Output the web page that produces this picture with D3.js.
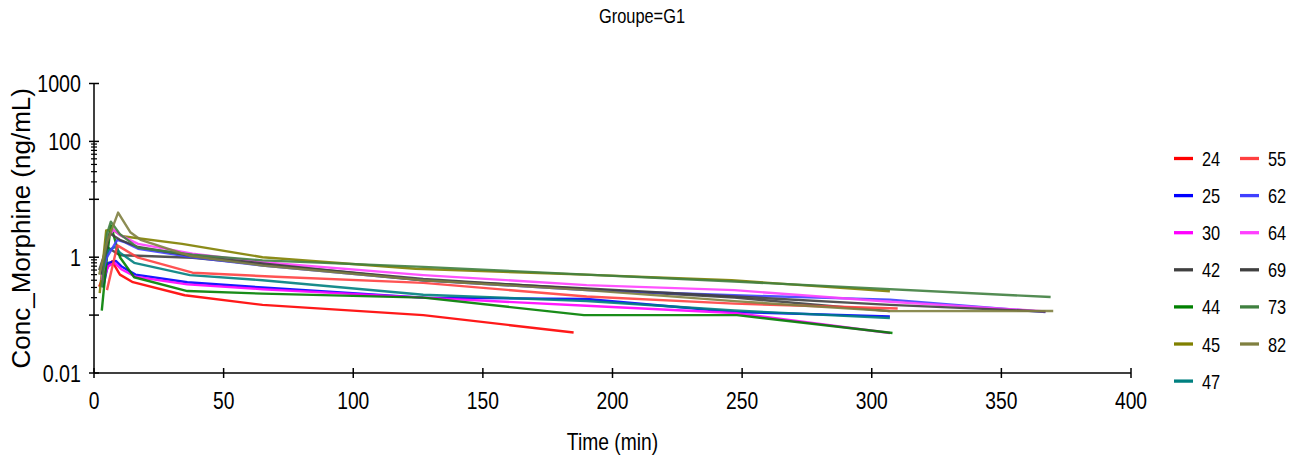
<!DOCTYPE html>
<html><head><meta charset="utf-8">
<script src="https://cdn.jsdelivr.net/npm/d3@7"></script>
<style>
html,body{margin:0;padding:0;background:#fff;}
text{font-family:"Liberation Sans",Arial,sans-serif;fill:#000;}
</style></head>
<body><svg id="chart" width="1307" height="466"></svg>
<script>
// ---- data ----
const subjects = ["24","25","30","42","44","45","47","55","62","64","69","73","82"];
const colors = ["#ff0000","#0000ff","#ff00ff","#404040","#008000","#808000","#008080","#ff4040","#4040ff","#ff40ff","#404040","#408040","#808040"];
const t24 = [2, 4.5, 7, 10, 15, 35, 65, 127, 185];
const c24 = [0.31, 0.6, 0.85, 0.5, 0.37, 0.22, 0.15, 0.1, 0.05];
const t25 = [3.5, 5.5, 8.5, 10.5, 16, 36, 65, 127, 190, 247, 307];
const c25 = [0.3, 0.8, 0.86, 0.7, 0.5, 0.37, 0.3, 0.2, 0.19, 0.113, 0.095];
const t30 = [3, 5.5, 8, 10.5, 16, 36, 65, 127, 190, 247, 307];
const c30 = [0.35, 0.7, 0.8, 0.62, 0.46, 0.34, 0.28, 0.2, 0.145, 0.109, 0.049];
const t42 = [2, 5, 10, 17, 38, 65, 127, 190, 247, 307];
const c42 = [0.6, 1.5, 1.08, 1.06, 0.98, 0.75, 0.42, 0.28, 0.2, 0.117];
const t44 = [3, 5, 6.5, 10, 15.5, 36, 65, 127, 189, 248, 308];
const c44 = [0.12, 1.0, 3.5, 1.0, 0.45, 0.26, 0.235, 0.2, 0.1, 0.1, 0.049];
const t45 = [2.2, 4.7, 7, 11, 34, 65, 124, 189, 246, 307];
const c45 = [0.24, 2.9, 3.0, 2.3, 1.7, 1.0, 0.63, 0.5, 0.4, 0.258];
const t47 = [3, 5.5, 8, 10, 15.5, 37, 65, 127, 190, 247, 307];
const c47 = [0.5, 1.3, 1.5, 1.2, 0.8, 0.49, 0.4, 0.225, 0.175, 0.12, 0.089];
const t55 = [5, 9, 17, 38, 70, 127, 190, 247, 310];
const c55 = [0.27, 1.6, 0.98, 0.54, 0.46, 0.36, 0.21, 0.158, 0.13];
const t62 = [3, 5, 9, 12, 17, 38, 65, 127, 190, 247, 307, 367];
const c62 = [0.5, 1.0, 2.0, 1.8, 1.4, 1.0, 0.72, 0.4, 0.27, 0.22, 0.185, 0.113];
const t64 = [3, 5, 7.5, 10, 17, 38, 65, 127, 190, 247, 307, 367];
const c64 = [0.4, 2.0, 3.0, 2.4, 1.7, 1.15, 0.82, 0.49, 0.33, 0.27, 0.17, 0.116];
const t69 = [3, 6, 10, 17, 38, 65, 127, 190, 247, 307, 367];
const c69 = [0.5, 2.6, 2.0, 1.5, 1.05, 0.78, 0.4, 0.29, 0.21, 0.15, 0.115];
const t73 = [3, 5, 6.5, 10, 17, 38, 65, 127, 190, 247, 369];
const c73 = [0.3, 2.5, 4.1, 2.5, 1.45, 1.1, 0.88, 0.68, 0.5, 0.38, 0.205];
const t82 = [2, 5, 9.3, 14, 18, 37, 65, 127, 190, 247, 307, 370];
const c82 = [0.5, 1.8, 5.9, 2.7, 2.0, 1.05, 0.72, 0.4, 0.27, 0.174, 0.117, 0.118];
const xTicks = [0, 50, 100, 150, 200, 250, 300, 350, 400];
const yMajor = [0.01, 0.1, 1, 10, 100, 1000];
const yLabeled = [0.01, 1, 100, 1000];
const yLabelText = ["0.01", "1", "100", "1000"];
const yMinor = [0.2,0.3,0.4,0.5,0.6,0.7,0.8,0.9,20,30,40,50,60,70,80,90];
const times = [t24,t25,t30,t42,t44,t45,t47,t55,t62,t64,t69,t73,t82];
const concs = [c24,c25,c30,c42,c44,c45,c47,c55,c62,c64,c69,c73,c82];

// ---- drawing ----
const svg = d3.select("#chart");
const x = d3.scaleLinear().domain([0, 400]).range([94, 1131]);
const y = d3.scaleLog().domain([0.01, 1000]).range([373, 83.5]);
const SX = 0.82;

function ntext(g, px, py, str, size, anchor) {
  return g.append("text")
    .attr("transform", `translate(${px},${py}) scale(${SX},1)`)
    .attr("text-anchor", anchor)
    .style("font-size", size + "px")
    .text(str);
}

// title
ntext(svg, 642, 23, "Groupe=G1", 20, "middle");

// axes lines
const ax = svg.append("g").attr("stroke", "#000").attr("stroke-width", 1.5);
ax.append("line").attr("x1", x(0)).attr("x2", x(400)).attr("y1", y(0.01)).attr("y2", y(0.01));
ax.append("line").attr("x1", x(0)).attr("x2", x(0)).attr("y1", y(0.01)).attr("y2", y(1000));

// x ticks
xTicks.forEach(v => {
  ax.append("line").attr("x1", x(v)).attr("x2", x(v)).attr("y1", y(0.01) - 5).attr("y2", y(0.01) + 5);
  ntext(svg, x(v), 409, String(v), 23.5, "middle");
});
// y ticks
yMajor.forEach(v => {
  ax.append("line").attr("x1", x(0) - 5).attr("x2", x(0) + 5).attr("y1", y(v)).attr("y2", y(v));
});
yMinor.forEach(v => {
  ax.append("line").attr("x1", x(0) - 3).attr("x2", x(0) + 3).attr("y1", y(v)).attr("y2", y(v)).attr("stroke-width", 1.2);
});
yLabeled.forEach((v, i) => {
  ntext(svg, 81, y(v) + 8.5, yLabelText[i], 24, "end");
});

// axis titles
ntext(svg, x(200), 450, "Time (min)", 23.5, "middle");
svg.append("text")
  .attr("transform", `translate(30,${(y(0.01) + y(1000)) / 2}) rotate(-90)`)
  .attr("text-anchor", "middle")
  .style("font-size", "26px")
  .text("Conc_Morphine (ng/mL)");

// lines
const line = d3.line().x(d => x(d[0])).y(d => y(d[1]));
const lg = svg.append("g");
subjects.forEach((s, i) => {
  const pts = times[i].map((t, j) => [t, concs[i][j]]);
  lg.append("path").datum(pts)
    .attr("d", line)
    .attr("fill", "none")
    .attr("stroke", colors[i])
    .attr("stroke-width", 2.4)
    .attr("stroke-opacity", 0.9)
    .attr("stroke-linejoin", "round");
});

// legend
const leg = svg.append("g");
subjects.forEach((s, i) => {
  const col = i < 7 ? 0 : 1;
  const row = i < 7 ? i : i - 7;
  const lx = col === 0 ? 1174 : 1240;
  const ly = 158.5 + row * 37.1;
  leg.append("line").attr("x1", lx).attr("x2", lx + 19).attr("y1", ly).attr("y2", ly)
    .attr("stroke", colors[i]).attr("stroke-width", 3.3);
  ntext(leg, lx + 28, ly + 7.5, s, 20, "start");
});
</script></body></html>
